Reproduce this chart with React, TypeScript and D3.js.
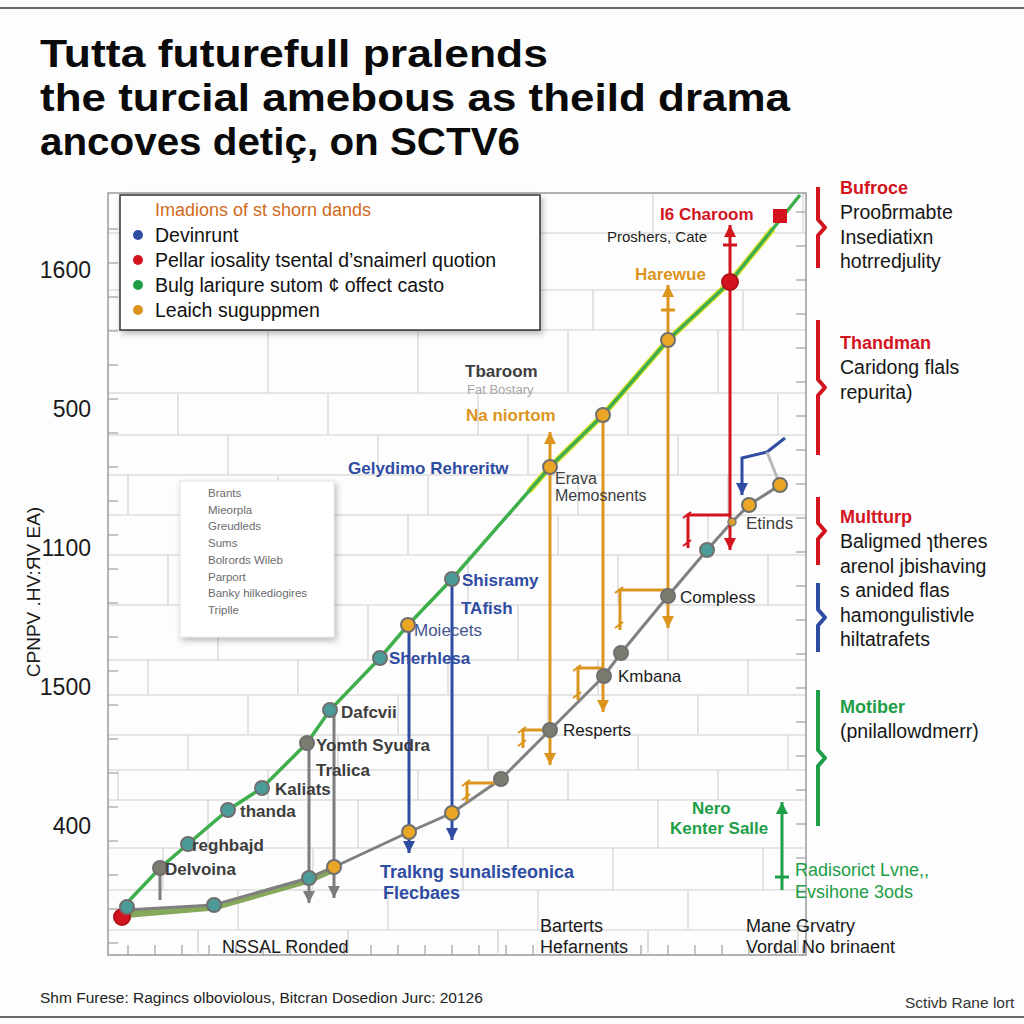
import React from 'react';
import * as d3 from 'd3';

// values are in plot units: x 0..700, y 0..760
const greenLine: [number, number][] = [
  [17, 48], [52, 85], [80, 109], [120, 143], [154, 165], [199, 210], [222, 243],
  [272, 295], [300, 328], [344, 374], [442, 486], [495, 538], [560, 613],
  [622, 671], [672, 733], [692, 758],
];
const yellowLine: [number, number][] = [
  [422, 463], [442, 486], [495, 538], [560, 613], [622, 671], [664, 723],
];
const bandLine: [number, number][] = [[12, 38], [106, 46], [201, 73], [226, 84]];
const grayLine: [number, number][] = [
  [17, 43], [106, 48], [201, 75], [226, 86], [301, 121], [344, 140], [393, 174],
  [442, 223], [496, 277], [513, 300], [560, 357], [599, 403], [624, 431],
  [641, 448], [672, 468],
];

type Kind = 'teal' | 'gray' | 'orange' | 'red' | 'redsq' | 'small';
const markers: { x: number; y: number; k: Kind }[] = [
  { x: 14, y: 36, k: 'red' }, { x: 19, y: 46, k: 'teal' },
  { x: 52, y: 85, k: 'gray' }, { x: 80, y: 109, k: 'teal' }, { x: 120, y: 143, k: 'teal' },
  { x: 154, y: 165, k: 'teal' }, { x: 199, y: 210, k: 'gray' }, { x: 222, y: 243, k: 'teal' },
  { x: 272, y: 295, k: 'teal' }, { x: 300, y: 328, k: 'orange' }, { x: 344, y: 374, k: 'teal' },
  { x: 442, y: 486, k: 'orange' }, { x: 495, y: 538, k: 'orange' }, { x: 560, y: 613, k: 'orange' },
  { x: 622, y: 671, k: 'red' }, { x: 672, y: 737, k: 'redsq' },
  { x: 106, y: 48, k: 'teal' }, { x: 201, y: 75, k: 'teal' }, { x: 226, y: 86, k: 'orange' },
  { x: 301, y: 121, k: 'orange' }, { x: 344, y: 140, k: 'orange' }, { x: 393, y: 174, k: 'gray' },
  { x: 442, y: 223, k: 'gray' }, { x: 496, y: 277, k: 'gray' }, { x: 513, y: 300, k: 'gray' },
  { x: 560, y: 357, k: 'gray' }, { x: 599, y: 403, k: 'teal' }, { x: 624, y: 431, k: 'small' },
  { x: 641, y: 448, k: 'orange' }, { x: 672, y: 468, k: 'orange' },
];

const drops = [
  { x: 201, top: 210, bottom: 50, color: 'gray', up: false, down: true },
  { x: 226, top: 243, bottom: 55, color: 'gray', up: false, down: true },
  { x: 52, top: 85, bottom: 53, color: 'gray', up: false, down: false },
  { x: 301, top: 328, bottom: 100, color: 'blue', up: false, down: true },
  { x: 344, top: 374, bottom: 113, color: 'blue', up: false, down: true },
  { x: 442, top: 521, bottom: 188, color: 'orange', up: true, down: true },
  { x: 495, top: 538, bottom: 241, color: 'orange', up: false, down: true },
  { x: 560, top: 668, bottom: 325, color: 'orange', up: true, down: true },
  { x: 622, top: 728, bottom: 403, color: 'red', up: true, down: true },
  { x: 674, top: 151, bottom: 63, color: 'green', up: true, down: false },
];
const dropTicks = [
  { x: 560, y: 643, color: 'orange' }, { x: 622, y: 708, color: 'red' },
  { x: 674, y: 76, color: 'green' },
];
const hooks = [
  { y: 363, x1: 512, x2: 560, down: 323, color: 'orange' },
  { y: 285, x1: 470, x2: 496, down: 253, color: 'orange' },
  { y: 223, x1: 415, x2: 443, down: 205, color: 'orange' },
  { y: 170, x1: 359, x2: 393, down: 151, color: 'orange' },
  { y: 438, x1: 580, x2: 622, down: 405, color: 'red' },
];
const blueHook: [number, number][] = [[634, 458], [634, 495], [659, 501], [677, 515]];

const labels = [
  { t: 'I6 Charoom', x: 552, y: 733, c: 'red', w: 700, s: 17 },
  { t: 'Proshers, Cate', x: 499, y: 711, c: 'ink', w: 400, s: 15 },
  { t: 'Harewue', x: 527, y: 673, c: 'orange', w: 700, s: 17 },
  { t: 'Tbaroom', x: 357, y: 576, c: 'dim', w: 600, s: 17 },
  { t: 'Fat Bostary', x: 359, y: 559, c: 'faint', w: 400, s: 13 },
  { t: 'Na niortom', x: 358, y: 532, c: 'orange', w: 600, s: 17 },
  { t: 'Gelydimo Rehreritw', x: 240, y: 479, c: 'blue', w: 600, s: 17 },
  { t: 'Erava', x: 447, y: 469, c: 'dim', w: 400, s: 16 },
  { t: 'Memosnents', x: 447, y: 452, c: 'dim', w: 400, s: 16 },
  { t: 'Etinds', x: 638, y: 424, c: 'dim', w: 400, s: 17 },
  { t: 'Shisramy', x: 354, y: 367, c: 'blue', w: 600, s: 17 },
  { t: 'TAfish', x: 353, y: 339, c: 'blue', w: 600, s: 17 },
  { t: 'Moiecets', x: 306, y: 317, c: 'slate', w: 400, s: 17 },
  { t: 'Compless', x: 572, y: 350, c: 'ink', w: 400, s: 17 },
  { t: 'Sherhlesa', x: 281, y: 289, c: 'blue', w: 600, s: 17 },
  { t: 'Kmbana', x: 510, y: 271, c: 'ink', w: 400, s: 17 },
  { t: 'Dafcvii', x: 233, y: 235, c: 'dim', w: 600, s: 17 },
  { t: 'Resperts', x: 455, y: 217, c: 'ink', w: 400, s: 17 },
  { t: 'Yomth Syudra', x: 208, y: 202, c: 'dim', w: 600, s: 17 },
  { t: 'Tralica', x: 208, y: 177, c: 'dim', w: 600, s: 17 },
  { t: 'Kaliats', x: 167, y: 158, c: 'dim', w: 600, s: 17 },
  { t: 'thanda', x: 132, y: 136, c: 'dim', w: 600, s: 17 },
  { t: 'reghbajd', x: 84, y: 102, c: 'dim', w: 600, s: 17 },
  { t: 'Delvoina', x: 57, y: 78, c: 'dim', w: 600, s: 17 },
  { t: 'Tralkng sunalisfeonica', x: 272, y: 75, c: 'blue', w: 600, s: 18 },
  { t: 'Flecbaes', x: 275, y: 54, c: 'blue', w: 600, s: 18 },
  { t: 'Nero', x: 584, y: 139, c: 'green', w: 600, s: 17 },
  { t: 'Kenter Salle', x: 562, y: 119, c: 'green', w: 600, s: 17 },
  { t: 'Radisorict Lvne,,', x: 687, y: 77, c: 'green', w: 400, s: 18 },
  { t: 'Evsihone 3ods', x: 687, y: 55, c: 'green', w: 400, s: 18 },
];

const yTickLabels = ['1600', '500', '1100', '1500', '400'];
const xTickLabels = [
  { x: 114, lines: ['', 'NSSAL Ronded'] },
  { x: 432, lines: ['Barterts', 'Hefarnents'] },
  { x: 638, lines: ['Mane Grvatry', 'Vordal No brinaent'] },
];

const legendTitle = 'Imadions of st shorn dands';
const legendItems = [
  { t: 'Devinrunt', c: 'blue' },
  { t: 'Pellar iosality tsental d\u2019snaimerl quotion', c: 'red' },
  { t: 'Bulg lariqure sutom \u00a2 offect casto', c: 'green' },
  { t: 'Leaich suguppmen', c: 'orange' },
];
const boxItems = [
  'Brants', 'Mieorpla', 'Greudleds', 'Sums', 'Bolrords Wileb', 'Parport',
  'Banky hilkediogires', 'Triplle',
];

const sideNotes = [
  { c: 'red', from: 187, to: 268, head: 'Bufroce', lines: ['Proo\u0183rmabte', 'Insediatixn', 'hotrredjulity'], top: 194 },
  { c: 'red', from: 320, to: 455, head: 'Thandman', lines: ['Caridong flals', 'repurita)'], top: 349 },
  { c: 'red', from: 497, to: 565, head: 'Multturp', lines: ['Baligmed \u027ftheres', 'arenol jbishaving'], top: 523 },
  { c: 'blue', from: 583, to: 652, head: '', lines: ['s anided flas', 'hamongulistivle', 'hiltatrafets'], top: 597 },
  { c: 'green', from: 690, to: 826, head: 'Motiber', lines: ['(pnilallowdmerr)'], top: 713 },
];

const title = [
  'Tutta futurefull pralends',
  'the turcial amebous as theild drama',
  'ancoves deti\u00e7, on SCTV6',
];

const colors: Record<string, string> = {
  blue: '#2f4ca3', red: '#d3141f', green: '#1f9e48', orange: '#dc951c',
  gray: '#7d7d7d', ink: '#1c1c1c', dim: '#3e3e3e', faint: '#a6a6a6', slate: '#45548f',
};

const gridRows = [720, 663, 623, 560, 518, 478, 438, 398, 348, 293, 258, 218, 183, 153, 105, 63, 23];
const brickStarts = [95, 35, 160, 70, 120, 20, 150, 60, 110, 40, 140, 80, 10, 100, 55, 130, 90];

const font = '"Liberation Sans", Arial, sans-serif';

export default function App() {
  const x = d3.scaleLinear().domain([0, 700]).range([108, 808]);
  const y = d3.scaleLinear().domain([0, 760]).range([953, 193]);
  const yBand = d3.scalePoint<string>().domain(yTickLabels).range([y(683), y(127)]);
  const line = d3.line<[number, number]>().x(d => x(d[0])).y(d => y(d[1]));

  const arrow = (px: number, py: number, dir: 1 | -1, col: string, key: string) => (
    <path key={key} d={`M${px - 6},${py - 12 * dir} L${px + 6},${py - 12 * dir} L${px},${py} Z`} fill={col} />
  );

  const bricks: JSX.Element[] = [];
  gridRows.forEach((gy, i) => {
    bricks.push(<line key={'h' + i} x1={x(0)} x2={x(698)} y1={y(gy)} y2={y(gy)} />);
    const top = i === 0 ? 760 : gy;
    const bottom = i === 0 ? gy : (i + 1 < gridRows.length ? gridRows[i + 1] : 0);
    for (let bx = brickStarts[i]; bx < 700; bx += 150) {
      bricks.push(<line key={`v${i}-${bx}`} x1={x(bx)} x2={x(bx)} y1={y(top)} y2={y(bottom)} />);
    }
  });
  for (let bx = brickStarts[brickStarts.length - 1]; bx < 700; bx += 150) {
    bricks.push(<line key={'vl' + bx} x1={x(bx)} x2={x(bx)} y1={y(23)} y2={y(0)} />);
  }

  const leftTicks = d3.range(10, 740, 34);
  const bottomTicks = d3.range(20, 700, 27);

  return (
    <div style={{ position: 'absolute', left: 0, top: 0 }}>
      <svg width={1024} height={1024} style={{ display: 'block', background: '#fdfdfd' }}>
        <defs>
          <filter id="sh" x="-10%" y="-10%" width="130%" height="140%">
            <feDropShadow dx="2" dy="3" stdDeviation="3" floodOpacity="0.28" />
          </filter>
        </defs>
        <line x1={0} x2={1024} y1={8} y2={8} stroke="#6a6a6a" strokeWidth={2} />
        <line x1={0} x2={1024} y1={1017} y2={1017} stroke="#6a6a6a" strokeWidth={2} />

        {title.map((t, i) => (
          <text key={t} x={40} y={67 + i * 44} fontFamily={font} fontWeight={700} fontSize={39}
            fill="#0a0a0a" textLength={[508, 750, 480][i]} lengthAdjust="spacingAndGlyphs">{t}</text>
        ))}

        {/* grid */}
        <g stroke="#dcdcdc" strokeWidth={1.6}>{bricks}</g>

        {/* frame */}
        <rect x={108} y={193} width={698} height={762} fill="none" stroke="#9a9a9a" strokeWidth={1.5} />
        <g stroke="#a0a0a0" strokeWidth={1.2}>
          {leftTicks.map(v => <line key={'lt' + v} x1={108} x2={118} y1={y(v)} y2={y(v)} />)}
          {leftTicks.map(v => <line key={'rt' + v} x1={796} x2={806} y1={y(v + 17)} y2={y(v + 17)} />)}
          {bottomTicks.map(v => <line key={'bt' + v} x1={x(v)} x2={x(v)} y1={945} y2={955} />)}
        </g>

        {yTickLabels.map(l => (
          <text key={l} x={91} y={(yBand(l) as number) + 8} textAnchor="end" fontFamily={font}
            fontSize={23} fill="#1a1a1a">{l}</text>
        ))}
        <text transform="translate(40,592) rotate(-90)" textAnchor="middle" fontFamily={font}
          fontSize={19} fill="#1a1a1a">CPNPV .HV:ЯV EA)</text>

        {xTickLabels.map(l => l.lines.map((s, j) => s && (
          <text key={s} x={x(l.x)} y={932 + j * 21} fontFamily={font} fontSize={18} fill="#1a1a1a">{s}</text>
        )))}

        {/* lines */}
        <path d={line(bandLine) || ''} fill="none" stroke="#86a85a" strokeWidth={7} strokeLinecap="round" />
        <path d={line(yellowLine) || ''} fill="none" stroke="#e6e22c" strokeWidth={6} strokeLinecap="round" />
        <path d={line(greenLine) || ''} fill="none" stroke="#3fae4c" strokeWidth={3.5} />
        <path d={line(grayLine) || ''} fill="none" stroke="#808080" strokeWidth={3} />

        {/* drop lines */}
        {drops.map((d, i) => (
          <g key={'d' + i}>
            <line x1={x(d.x)} x2={x(d.x)} y1={y(d.top)} y2={y(d.bottom)} stroke={colors[d.color]} strokeWidth={3} />
            {d.up && arrow(x(d.x), y(d.top), -1, colors[d.color], 'u')}
            {d.down && arrow(x(d.x), y(d.bottom), 1, colors[d.color], 'dn')}
          </g>
        ))}
        {dropTicks.map((t, i) => (
          <line key={'tk' + i} x1={x(t.x) - 7} x2={x(t.x) + 7} y1={y(t.y)} y2={y(t.y)} stroke={colors[t.color]} strokeWidth={3} />
        ))}
        {hooks.map((h, i) => (
          <g key={'hk' + i} stroke={colors[h.color]} strokeWidth={3} fill="none">
            <path d={`M${x(h.x2)},${y(h.y)} H${x(h.x1)} V${y(h.down)}`} />
            <path d={`M${x(h.x1) - 5},${y(h.y) + 3} l8,-6 M${x(h.x1) - 5},${y(h.down) - 2} l8,-6`} strokeWidth={2} />
          </g>
        ))}
        <path d={line(blueHook) || ''} fill="none" stroke={colors.blue} strokeWidth={3} />
        {arrow(x(634), y(458), 1, colors.blue, 'bh')}
        <line x1={x(659)} y1={y(501)} x2={x(672)} y2={y(468)} stroke="#b8b8b8" strokeWidth={3} />

        {/* markers */}
        {markers.map((m, i) => {
          const cx = x(m.x), cy = y(m.y);
          if (m.k === 'redsq') return <rect key={'m' + i} x={cx - 7} y={cy - 7} width={14} height={14} fill={colors.red} />;
          if (m.k === 'small') return <circle key={'m' + i} cx={cx} cy={cy} r={4} fill="#d9a030" stroke="#777" strokeWidth={1.5} />;
          const fill = m.k === 'teal' ? '#4b9c99' : m.k === 'gray' ? '#7b7b70' : m.k === 'orange' ? '#eaa624' : colors.red;
          const stroke = m.k === 'red' ? '#b01018' : '#6f6f6f';
          return <circle key={'m' + i} cx={cx} cy={cy} r={m.k === 'red' ? 8 : 7} fill={fill} stroke={stroke} strokeWidth={2} />;
        })}

        {labels.map((l, i) => (
          <text key={'l' + i} x={x(l.x)} y={y(l.y)} fontFamily={font} fontSize={l.s} fontWeight={l.w}
            fill={colors[l.c]}>{l.t}</text>
        ))}

        {/* legend */}
        <rect x={120} y={195} width={420} height={135} fill="#fff" stroke="#333" strokeWidth={1.5} filter="url(#sh)" />
        <text x={155} y={216} fontFamily={font} fontSize={18} fill="#cf6a1c">{legendTitle}</text>
        {legendItems.map((it, i) => (
          <g key={it.t}>
            <circle cx={138} cy={235 + i * 25} r={5} fill={colors[it.c]} />
            <text x={155} y={242 + i * 25} fontFamily={font} fontSize={19.5} fill="#111">{it.t}</text>
          </g>
        ))}

        {/* small box */}
        <rect x={180} y={481} width={154} height={156} fill="#fff" stroke="#e4e4e4" filter="url(#sh)" />
        {boxItems.map((t, i) => (
          <text key={t} x={208} y={497 + i * 16.7} fontFamily={font} fontSize={11.5} fill="#6b6b6b">{t}</text>
        ))}

        {/* side notes */}
        {sideNotes.map((n, i) => {
          const mid = (n.from + n.to) / 2;
          return (
            <g key={'s' + i}>
              <path d={`M818,${n.from} V${mid - 8} L825,${mid} L818,${mid + 8} V${n.to}`} fill="none"
                stroke={colors[n.c]} strokeWidth={4} strokeLinejoin="round" />
              {n.head && <text x={840} y={n.top} fontFamily={font} fontWeight={700} fontSize={18}
                fill={colors[n.c]}>{n.head}</text>}
              {n.lines.map((s, j) => (
                <text key={s} x={840} y={n.top + (n.head ? 25 : 0) + j * 24.5} fontFamily={font}
                  fontSize={19.5} fill="#161616">{s}</text>
              ))}
            </g>
          );
        })}

        <text x={40} y={1003} fontFamily={font} fontSize={15.5} fill="#222">
          Shm Furese: Ragincs olboviolous, Bitcran Dosedion Jurc: 20126
        </text>
        <text x={905} y={1008} fontFamily={font} fontSize={15.5} fill="#333">Sctivb Rane lort</text>
      </svg>
    </div>
  );
}
